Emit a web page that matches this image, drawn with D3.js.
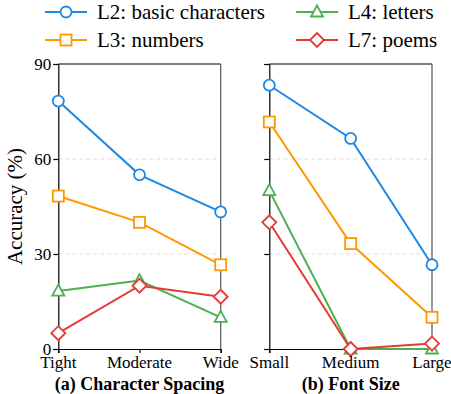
<!DOCTYPE html>
<html><head><meta charset="utf-8"><script src="https://cdn.jsdelivr.net/npm/d3@7"></script></head>
<body style="margin:0">
<script>
// data
const spacingCats = ['Tight', 'Moderate', 'Wide'];
const sizeCats = ['Small', 'Medium', 'Large'];
const seriesNames = ['L2: basic characters', 'L3: numbers', 'L4: letters', 'L7: poems'];
const spacingL2 = [78.3, 55, 43.3];
const spacingL3 = [48.3, 40, 26.6];
const spacingL4 = [18.3, 21.6, 10];
const spacingL7 = [5, 20, 16.5];
const sizeL2 = [83.3, 66.5, 26.6];
const sizeL3 = [71.7, 33.3, 10];
const sizeL4 = [50, 0, 0];
const sizeL7 = [40, 0, 1.7];
const yTicks = [0, 30, 60, 90];

const colors = ['#1e88e5', '#ff9800', '#4caf50', '#e53935'];
const shapes = ['circle', 'square', 'triangle', 'diamond'];
const FONT = 'Liberation Serif';

const svg = d3.select('body').append('svg').attr('width', 451).attr('height', 394);

const y = d3.scaleLinear().domain([0, 90]).range([349, 64]);

function marker(g, shape, color) {
  if (shape === 'circle') {
    g.append('circle').attr('r', 5.5);
  } else if (shape === 'square') {
    g.append('rect').attr('x', -5.5).attr('y', -5.5).attr('width', 11).attr('height', 11);
  } else if (shape === 'triangle') {
    g.append('path').attr('d', 'M0,-6.5L6,4.5L-6,4.5Z');
  } else {
    g.append('path').attr('d', 'M0,-7L7,0L0,7L-7,0Z');
  }
  g.selectAll('*').attr('fill', '#fff').attr('stroke', color).attr('stroke-width', 1.8);
}

// all texts are gathered here and drawn last, outside the axis groups
const labels = [];

function panel(x0, x1, cats, series, title, showLabels) {
  const x = d3.scalePoint().domain(cats).range([x0, x1]);
  const g = svg.append('g');

  g.selectAll('.grid').data([30, 60]).join('line')
    .attr('x1', x0).attr('x2', x1).attr('y1', d => y(d)).attr('y2', d => y(d))
    .attr('stroke', '#d6d6d6').attr('stroke-width', 0.8).attr('stroke-dasharray', '4,3');

  g.append('line').attr('x1', x0).attr('x2', x1).attr('y1', y(90)).attr('y2', y(90)).attr('stroke', '#000').attr('stroke-width', 1.2);
  g.append('line').attr('x1', x1).attr('x2', x1).attr('y1', y(90)).attr('y2', y(0)).attr('stroke', '#555').attr('stroke-width', 1.2);

  const ya = g.append('g').attr('transform', `translate(${x0},0)`)
    .call(d3.axisLeft(y).tickValues(yTicks).tickSize(5).tickFormat(''));
  ya.selectAll('text').remove();
  ya.select('.domain').attr('stroke', '#000').attr('stroke-width', 1.2);
  ya.selectAll('.tick line').attr('stroke', '#000').attr('stroke-width', 1.2);
  if (showLabels) {
    yTicks.forEach(t => labels.push({ x: x0 - 7, y: y(t) + 6, t: String(t), size: 17, anchor: 'end' }));
  }

  const xa = g.append('g').attr('transform', `translate(0,${y(0)})`)
    .call(d3.axisBottom(x).tickSize(4).tickFormat(''));
  xa.selectAll('text').remove();
  xa.select('.domain').attr('stroke', '#000').attr('stroke-width', 1.2);
  xa.selectAll('.tick line').attr('stroke', '#000').attr('stroke-width', 1.2);
  cats.forEach(c => labels.push({ x: x(c), y: 368, t: c, size: 17, anchor: 'middle' }));

  const line = d3.line().x((d, i) => x(cats[i])).y(d => y(d));
  series.forEach((vals, s) => {
    g.append('path').datum(vals).attr('d', line)
      .attr('fill', 'none').attr('stroke', colors[s]).attr('stroke-width', 2);
  });
  series.forEach((vals, s) => {
    vals.forEach((v, i) => {
      const m = g.append('g').attr('transform', `translate(${x(cats[i])},${y(v)})`);
      marker(m, shapes[s], colors[s]);
    });
  });

  labels.push({ x: (x0 + x1) / 2, y: 390, t: title, size: 18, anchor: 'middle', bold: true });
}

panel(58.3, 220.7, spacingCats, [spacingL2, spacingL3, spacingL4, spacingL7], '(a) Character Spacing', true);
panel(269.3, 432, sizeCats, [sizeL2, sizeL3, sizeL4, sizeL7], '(b) Font Size', false);

// legend
const legPos = [[45, 12], [45, 40], [296, 12], [296, 40]];
seriesNames.forEach((name, s) => {
  const [lx, ly] = legPos[s];
  const lg = svg.append('g').attr('transform', `translate(${lx},${ly})`);
  lg.append('line').attr('x1', 0).attr('x2', 42).attr('stroke', colors[s]).attr('stroke-width', 2);
  const m = lg.append('g').attr('transform', 'translate(21,0)');
  marker(m, shapes[s], colors[s]);
  labels.push({ x: lx + 52, y: ly + 7, t: name, size: 21, anchor: 'start' });
});

svg.selectAll('text.lab').data(labels).join('text')
  .attr('class', 'lab')
  .attr('x', d => d.x).attr('y', d => d.y)
  .attr('text-anchor', d => d.anchor)
  .style('font-family', FONT).style('font-size', d => d.size + 'px')
  .style('font-weight', d => d.bold ? 'bold' : 'normal')
  .text(d => d.t);

// y label
svg.append('text').attr('transform', 'translate(22,206.5) rotate(-90)')
  .attr('text-anchor', 'middle')
  .style('font-family', FONT).style('font-size', '21px')
  .text('Accuracy (%)');
</script>
</body>
</html>
